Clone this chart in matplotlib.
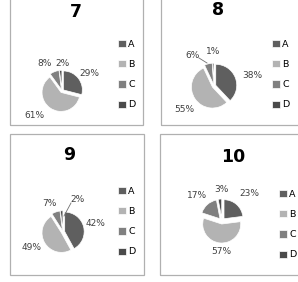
import matplotlib
matplotlib.use("Agg")
import matplotlib.pyplot as plt
from matplotlib.patches import Rectangle
from matplotlib.lines import Line2D

W, H = 298, 282
DPI = 100

categories = ["A", "B", "C", "D"]
colors = ["#5f5f5f", "#b3b3b3", "#808080", "#4a4a4a"]

titles = ["7", "8", "9", "10"]
values_7 = [29, 61, 8, 2]
values_8 = [38, 55, 6, 1]
values_9 = [42, 49, 7, 2]
values_10 = [23, 57, 17, 3]
all_values = [values_7, values_8, values_9, values_10]

# layout in pixels (from top-left)
boxes = [(10, -2, 143, 125), (161, -2, 302, 125), (10, 134, 144, 275), (160, 134, 302, 275)]
pie_centers = [(62, 91, 19), (214, 86, 21), (63, 232, 19.5), (222, 221, 19)]
title_pos = [(76, 12), (218, 10), (69, 155), (233, 157)]
legend_pos = [(118, 40), (272, 40), (118, 187), (279, 190)]
label_pos = [
    [(89, 73), (34, 116), (45, 63), (62, 63)],
    [(252, 76), (184, 109), (193, 56), (213, 52)],
    [(95, 224), (32, 248), (49, 203), (77, 199)],
    [(249, 194), (221, 251), (197, 195), (221, 190)],
]
leaders = [None, ((199, 58), (207, 63)), None, ((71, 203), (64, 216))]
explodes = [0.09, 0.09, 0.09, 0.16]

fig = plt.figure(figsize=(W / DPI, H / DPI), dpi=DPI)

def fx(x):
    return x / W

def fy(y):
    return 1 - y / H

for (x0, y0, x1, y1) in boxes:
    fig.add_artist(Rectangle((fx(x0), fy(y1)), fx(x1) - fx(x0), fy(y0) - fy(y1),
                             transform=fig.transFigure, fill=False,
                             edgecolor="#b0b0b0", linewidth=0.9))

for i, vals in enumerate(all_values):
    cx, cy, r = pie_centers[i]
    L = 2.0
    s = 2 * L * r
    ax = fig.add_axes([fx(cx - s / 2), fy(cy + s / 2), s / W, s / H])
    wedges, texts, autotexts = ax.pie(
        vals, colors=colors, startangle=90, counterclock=False,
        explode=[explodes[i]] * 4, autopct="%d%%", pctdistance=1.65,
        wedgeprops=dict(edgecolor="white", linewidth=0.5),
        textprops=dict(fontsize=6.5, color="#404040"))
    ax.set_xlim(-L, L)
    ax.set_ylim(-L, L)
    ax.set_aspect("equal")
    ax.axis("off")
    for t, (px, py) in zip(autotexts, label_pos[i]):
        t.set_clip_on(False)
        t.set_position(((px - cx) / r, (cy - py) / r))
    if leaders[i] is not None:
        (ax0, ay0), (ax1, ay1) = leaders[i]
        fig.add_artist(Line2D([fx(ax0), fx(ax1)], [fy(ay0), fy(ay1)],
                              transform=fig.transFigure, color="#707070",
                              linewidth=0.6))
    tx, ty = title_pos[i]
    fig.text(fx(tx), fy(ty), titles[i], ha="center", va="center",
             fontsize=12.5, fontweight="bold", color="black")
    lx, ly = legend_pos[i]
    fig.legend(wedges, categories, loc="upper left",
               bbox_to_anchor=(fx(lx), fy(ly)), frameon=False,
               fontsize=6.8, handlelength=0.8, handleheight=0.8,
               handletextpad=0.3, labelspacing=1.18, borderpad=0,
               borderaxespad=0)

fig.savefig("out.png", dpi=DPI)
